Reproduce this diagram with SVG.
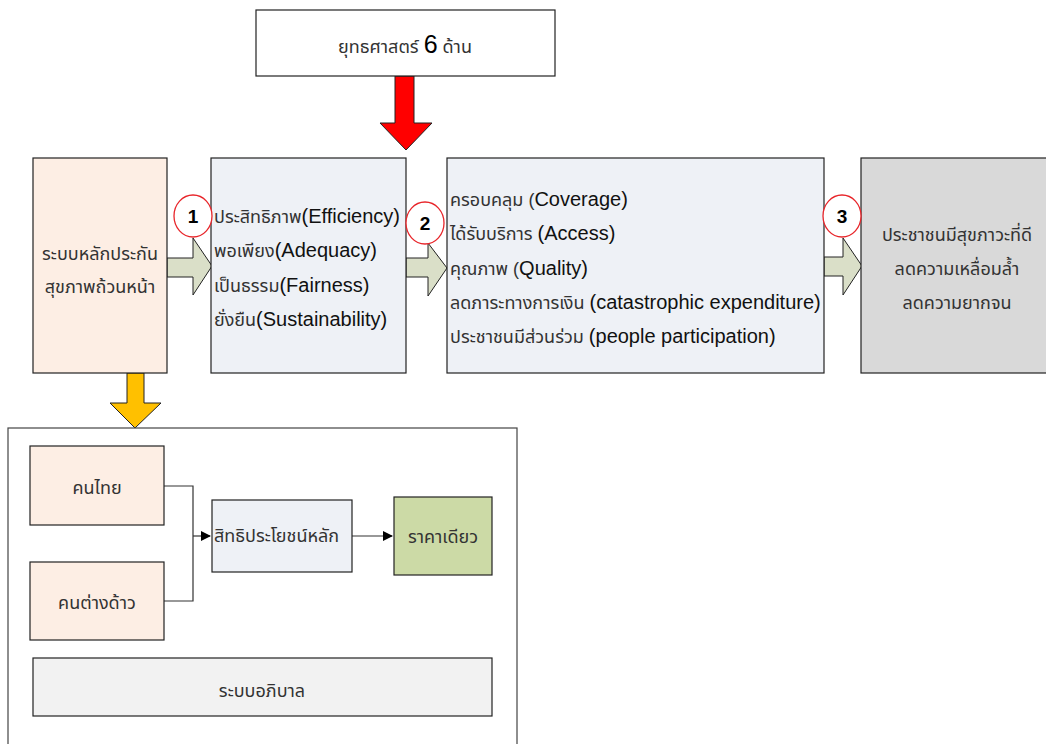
<svg xmlns="http://www.w3.org/2000/svg" width="1046" height="744" viewBox="0 0 1046 744">
<style>
text{font-family:"Liberation Sans","Noto Sans Thai","DejaVu Sans",sans-serif;font-size:18px;fill:#1a1a1a}
.th{fill:#333}
.en{font-size:20px;fill:#111}
.box{stroke:#222;stroke-width:1.2}
.blk{stroke:#222;stroke-width:1}
.circ{fill:#fff;stroke:#e8262b;stroke-width:1.3}
.num{font-weight:bold;font-size:19px;fill:#000;text-anchor:middle}
.c{text-anchor:middle}
.ln{fill:none;stroke:#333;stroke-width:1.2}
</style>
<defs>
<marker id="ah" markerWidth="10" markerHeight="10" refX="9" refY="5" orient="auto" markerUnits="userSpaceOnUse">
<path d="M0,0 L10,5 L0,10 Z" fill="#000"/>
</marker>
</defs>
<rect width="1046" height="744" fill="#fff"/>

<g id="connectors">
<path class="blk" d="M395,76 H414 V123 H432 L406,150 L380,123 H395 Z" fill="#ff0000"/>
<path class="blk" d="M167,258 H193 V238 L212,266 L193,295 V277 H167 Z" fill="#dadfc8"/>
<path class="blk" d="M406,258 H428 V243 L447,268 L428,296 V277 H406 Z" fill="#dadfc8"/>
<path class="blk" d="M824,257 H843 V238 L862,266 L843,295 V276 H824 Z" fill="#dadfc8"/>
<path class="blk" d="M127,373 H144 V403 H161 L135,428 L110,403 H127 Z" fill="#ffc000"/>
<path class="ln" d="M164,486 H193 V601 H164"/>
<path class="ln" d="M193,536 H210" marker-end="url(#ah)"/>
<path class="ln" d="M352,536 H392" marker-end="url(#ah)"/>
</g>

<g id="strategy">
<rect class="box" x="256" y="10" width="299" height="66" fill="#fff"/>
<text x="405" y="53" class="c th">ยุทธศาสตร์ <tspan font-size="25" fill="#000">6</tspan> ด้าน</text>
</g>

<g id="uc">
<rect class="box" x="33" y="158" width="134" height="215" fill="#fdeee4"/>
<text x="100" y="260" class="c th">ระบบหลักประกัน</text>
<text x="100" y="293" class="c th">สุขภาพถ้วนหน้า</text>
</g>

<g id="principles">
<rect class="box" x="211" y="158" width="195" height="215" fill="#eef1f6"/>
<text x="214" y="223"><tspan class="th">ประสิทธิภาพ</tspan><tspan class="en">(Efficiency)</tspan></text>
<text x="214" y="257"><tspan class="th">พอเพียง</tspan><tspan class="en">(Adequacy)</tspan></text>
<text x="214" y="292"><tspan class="th">เป็นธรรม</tspan><tspan class="en">(Fairness)</tspan></text>
<text x="214" y="326"><tspan class="th">ยั่งยืน</tspan><tspan class="en">(Sustainability)</tspan></text>
</g>

<g id="outcomes">
<rect class="box" x="447" y="158" width="377" height="215" fill="#eef1f6"/>
<text x="450" y="206"><tspan class="th">ครอบคลุม (</tspan><tspan class="en">Coverage)</tspan></text>
<text x="450" y="240"><tspan class="th">ได้รับบริการ </tspan><tspan class="en">(Access)</tspan></text>
<text x="450" y="275"><tspan class="th">คุณภาพ (</tspan><tspan class="en">Quality)</tspan></text>
<text x="450" y="309"><tspan class="th">ลดภาระทางการเงิน </tspan><tspan class="en">(catastrophic expenditure)</tspan></text>
<text x="450" y="343"><tspan class="th">ประชาชนมีส่วนร่วม </tspan><tspan class="en">(people participation)</tspan></text>
</g>

<g id="goal">
<rect class="box" x="861" y="158" width="190" height="215" fill="#d9d9d9"/>
<text x="957" y="241" class="c th" font-size="19">ประชาชนมีสุขภาวะที่ดี</text>
<text x="957" y="275" class="c th" font-size="19">ลดความเหลื่อมล้ำ</text>
<text x="957" y="309" class="c th" font-size="19">ลดความยากจน</text>
</g>

<g id="c1"><ellipse class="circ" cx="193" cy="216" rx="19" ry="21"/><text x="193" y="223" class="num">1</text></g>
<g id="c2"><ellipse class="circ" cx="425" cy="223" rx="19" ry="21"/><text x="425" y="230" class="num">2</text></g>
<g id="c3"><ellipse class="circ" cx="842" cy="216" rx="19" ry="21"/><text x="842" y="223" class="num">3</text></g>

<g id="container">
<rect x="8" y="428" width="509" height="330" fill="none" stroke="#444" stroke-width="1.2"/>
</g>

<g id="thai"><rect class="box" x="30" y="446" width="134" height="79" fill="#fdeee4"/><text x="97" y="494" class="c th">คนไทย</text></g>
<g id="foreign"><rect class="box" x="30" y="562" width="134" height="78" fill="#fdeee4"/><text x="97" y="609" class="c th">คนต่างด้าว</text></g>
<g id="benefit"><rect class="box" x="212" y="500" width="140" height="72" fill="#eef1f6"/><text x="214" y="542" class="th">สิทธิประโยชน์หลัก</text></g>
<g id="price"><rect class="box" x="394" y="497" width="98" height="78" fill="#ccdaa6"/><text x="443" y="543" class="c th">ราคาเดียว</text></g>
<g id="governance"><rect class="box" x="33" y="658" width="459" height="58" fill="#f2f2f2"/><text x="262" y="697" class="c th">ระบบอภิบาล</text></g>
</svg>
